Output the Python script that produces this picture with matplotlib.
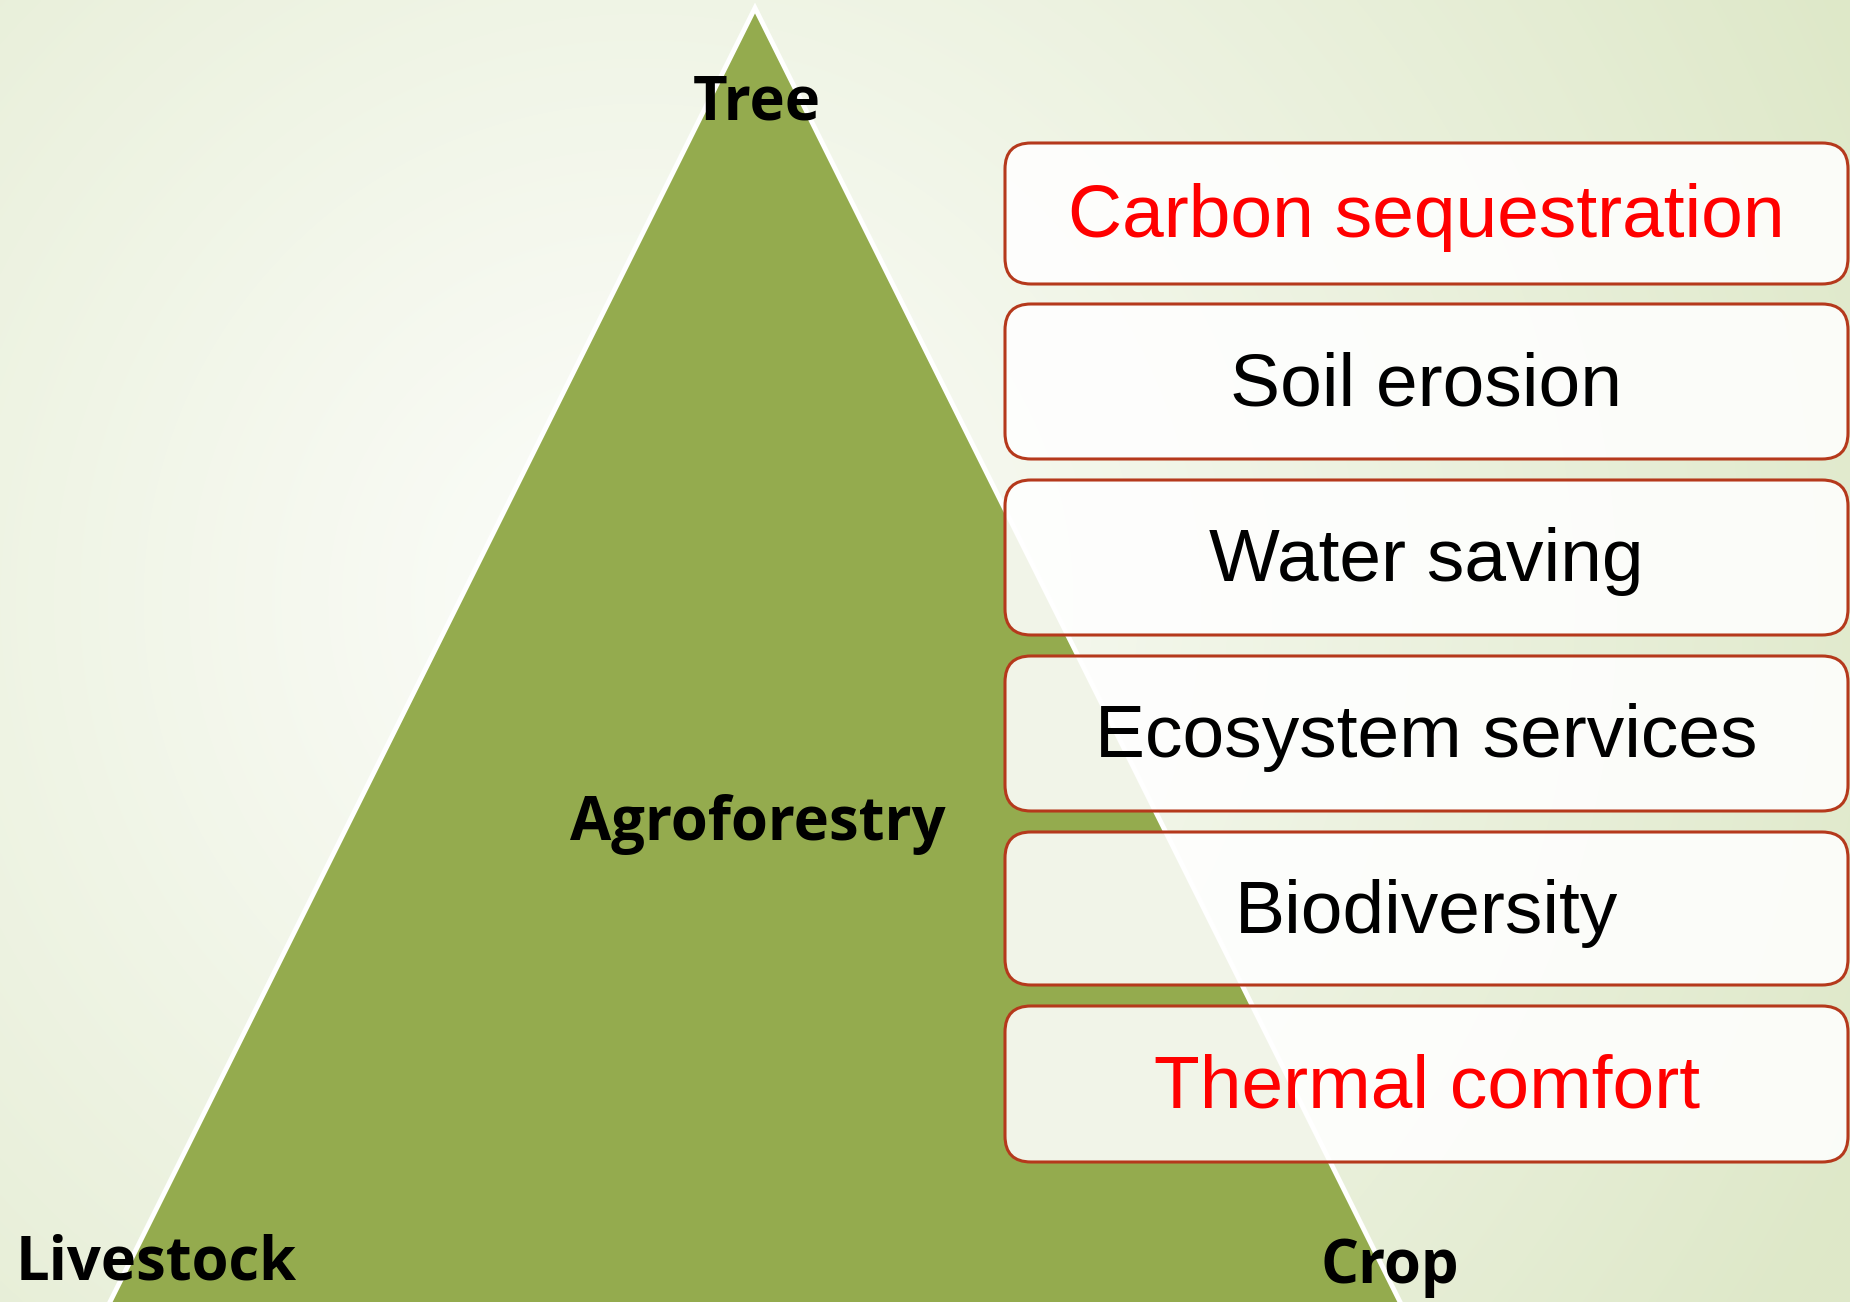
import numpy as np
import matplotlib
matplotlib.use("Agg")
import matplotlib.pyplot as plt
from matplotlib.patches import Polygon, FancyBboxPatch

# ---- content ----
corner_labels = ["Tree", "Agroforestry", "Livestock", "Crop"]
benefits = ["Carbon sequestration", "Soil erosion", "Water saving",
            "Ecosystem services", "Biodiversity", "Thermal comfort"]
benefit_colors = ["#ff0000", "#000000", "#000000", "#000000", "#000000", "#ff0000"]

# ---- layout (pixel coordinates) ----
W, H = 1850, 1302
apex = (755, 8)
base_y = 1330
half_slope = 0.4985
box_left, box_right = 1005, 1848
box_tops = [143, 304, 480, 656, 832, 1006]
box_bottoms = [284, 459, 635, 811, 985, 1162]

fig = plt.figure(figsize=(W / 100, H / 100), dpi=100)
ax = fig.add_axes([0, 0, 1, 1])
ax.set_xlim(0, W)
ax.set_ylim(H, 0)
ax.axis("off")

# background radial gradient
yy, xx = np.mgrid[0:H:2, 0:W:2]
cx, cy = 640, 600
d = np.sqrt((xx - cx) ** 2 + (yy - cy) ** 2) / 1350.0
d = np.clip(d, 0, 1)
c0 = np.array([252, 253, 250]) / 255.0
c1 = np.array([222, 232, 200]) / 255.0
t = d[..., None] ** 1.1
img = c0 * (1 - t) + c1 * t
ax.imshow(img, extent=(0, W, H, 0), zorder=0, interpolation="bilinear")

# triangle
dx = (base_y - apex[1]) * half_slope
tri = Polygon([apex, (apex[0] - dx, base_y), (apex[0] + dx, base_y)],
              closed=True, facecolor="#94ab4e", edgecolor="white",
              linewidth=3.5, zorder=1, joinstyle="miter")
ax.add_patch(tri)

# corner labels
lab_font = dict(family=["Open Sans", "DejaVu Sans"], fontweight="bold", color="black", zorder=3)
ax.text(757, 119, corner_labels[0], ha="center", va="baseline", fontsize=43, **lab_font)
ax.text(758, 840, corner_labels[1], ha="center", va="baseline", fontsize=43, **lab_font)
ax.text(16, 1279, corner_labels[2], ha="left", va="baseline", fontsize=43, **lab_font)
ax.text(1390, 1283, corner_labels[3], ha="center", va="baseline", fontsize=43, **lab_font)

# benefit boxes
for label, col, top, bot in zip(benefits, benefit_colors, box_tops, box_bottoms):
    box = FancyBboxPatch((box_left, top), box_right - box_left, bot - top,
                         boxstyle="round,pad=0,rounding_size=26",
                         facecolor=(1, 1, 1, 0.88), edgecolor="#b5391c",
                         linewidth=2.2, zorder=4)
    ax.add_patch(box)
    cyb = (top + bot) / 2
    ax.text((box_left + box_right) / 2, cyb + 24, label, ha="center", va="baseline",
            fontsize=54, family=["Liberation Sans", "DejaVu Sans"], color=col, zorder=5)

fig.savefig("out.png", dpi=100)
